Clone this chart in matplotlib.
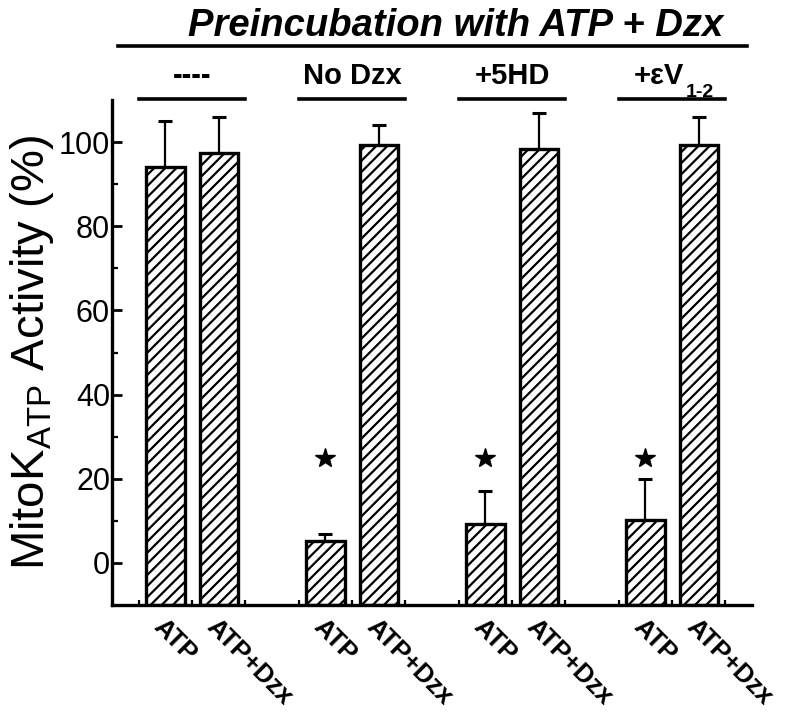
import numpy as np
import matplotlib
matplotlib.use('Agg')
import matplotlib.pyplot as plt

# data
groups = ['----', 'No Dzx', '+5HD', '+εV']
bar_labels = ['ATP', 'ATP+Dzx'] * 4
values = [94.2, 97.4, 5.1, 99.3, 9.2, 98.3, 10.2, 99.3]
errors = [10.8, 8.6, 1.8, 4.7, 7.8, 8.7, 9.8, 6.7]
star_bars = [2, 4, 6]          # index of bars marked with a star
star_y = 25

plt.rcParams['font.family'] = ['Liberation Sans', 'DejaVu Sans']
plt.rcParams['mathtext.fontset'] = 'custom'
plt.rcParams['mathtext.rm'] = 'Liberation Sans'
plt.rcParams['hatch.linewidth'] = 1.6

# positions: pairs of bars, one empty slot between groups
xpos = []
for g in range(4):
    xpos += [1 + 3 * g, 2 + 3 * g]
xpos = np.array(xpos)
ybase = -10

fig = plt.figure(figsize=(7.95, 7.15), dpi=100)
ax = fig.add_axes([0.141, 0.1538, 0.805, 0.7063])

ax.bar(xpos, np.array(values) - ybase, bottom=ybase, width=0.72,
       color='white', edgecolor='black', linewidth=2.4, hatch='///', zorder=2)
ax.errorbar(xpos, values, yerr=[np.zeros(len(errors)), errors], fmt='none',
            ecolor='black', elinewidth=1.6, capsize=5, capthick=2.2, zorder=1)
ax.plot(xpos[star_bars], [star_y] * len(star_bars), '*', color='black',
        markersize=15, linestyle='none')

ax.set_xlim(0, 12)
ax.set_ylim(-10, 110)

for s in ['top', 'right']:
    ax.spines[s].set_visible(False)
for s in ['left', 'bottom']:
    ax.spines[s].set_linewidth(2.4)
    ax.spines[s].set_zorder(3)

ax.set_yticks([0, 20, 40, 60, 80, 100])
ax.set_yticks([10, 30, 50, 70, 90], minor=True)
ax.tick_params(axis='y', which='major', direction='in', length=7, width=2,
               labelsize=22, pad=1.5)
ax.tick_params(axis='y', which='minor', direction='in', length=4, width=1.6)

ax.set_xticks(xpos)
ax.set_xticklabels(bar_labels, fontweight='bold', fontsize=18.5)
ax.set_xticks([p for g in range(4) for p in (0.5 + 3 * g, 1.5 + 3 * g, 2.5 + 3 * g)],
              minor=True)
ax.tick_params(axis='x', which='major', length=0, pad=7)
ax.tick_params(axis='x', which='minor', direction='in', length=3.5, width=1.6)
plt.setp(ax.get_xticklabels(), rotation=-45, ha='left', va='top',
         rotation_mode='anchor')

ax.set_ylabel(r'MitoK$_{\mathrm{ATP}}$ Activity (%)', fontsize=34, labelpad=2)

# header lines and labels above the plot
ax.plot([0.12, 11.9], [122.8, 122.8], color='black', lw=2.6, clip_on=False)
ax.text(6.45, 125.3, 'Preincubation with ATP + Dzx', fontsize=27.5,
        fontweight='bold', fontstyle='italic', ha='center', va='baseline')
for g, lab in enumerate(groups):
    c = 1.5 + 3 * g
    ax.plot([c - 1.0, c + 1.0], [110.2, 110.2], color='black', lw=2.6,
            clip_on=False)
    if g == 3:
        t = ax.text(c - 0.25, 113.8, lab, fontsize=21, fontweight='bold',
                    ha='center', va='baseline')
        ax.annotate('1-2', xy=(1, 0), xycoords=t, xytext=(1, -5),
                    textcoords='offset points', fontsize=14,
                    fontweight='bold', ha='left', va='baseline')
    else:
        ax.text(c, 113.8, lab, fontsize=21, fontweight='bold',
                ha='center', va='baseline')

fig.savefig('out.png', dpi=100)
